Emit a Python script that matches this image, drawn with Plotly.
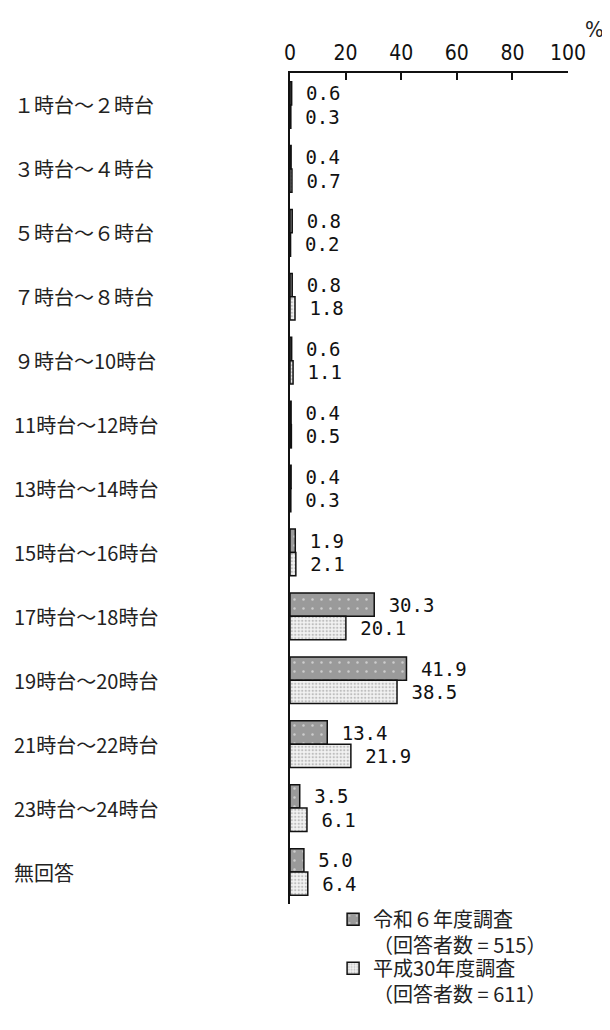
import plotly.graph_objects as go

categories = ["１時台～２時台", "３時台～４時台", "５時台～６時台", "７時台～８時台",
              "９時台～10時台", "11時台～12時台", "13時台～14時台", "15時台～16時台",
              "17時台～18時台", "19時台～20時台", "21時台～22時台", "23時台～24時台", "無回答"]
r6_values = [0.6, 0.4, 0.8, 0.8, 0.6, 0.4, 0.4, 1.9, 30.3, 41.9, 13.4, 3.5, 5.0]
h30_values = [0.3, 0.7, 0.2, 1.8, 1.1, 0.5, 0.3, 2.1, 20.1, 38.5, 21.9, 6.1, 6.4]
series_names = ["令和６年度調査<br>（回答者数 = 515）", "平成30年度調査<br>（回答者数 = 611）"]
x_ticks = [0, 20, 40, 60, 80, 100]

NUM_FONT = "DejaVu Sans Mono"
TICK_FONT = "Liberation Sans Narrow, DejaVu Sans Condensed, DejaVu Sans Mono"
JP_FONT = "Noto Sans CJK JP"

fig = go.Figure()
fig.add_trace(go.Bar(
    y=categories, x=r6_values, orientation="h", name=series_names[0], legend="legend",
    marker=dict(color="#9a9a9a", line=dict(color="#111", width=1.5),
                pattern=dict(shape=".", fgcolor="white", bgcolor="#9a9a9a",
                             size=9, solidity=0.06, fillmode="overlay")),
    texttemplate=" %{x:.1f}", textposition="outside", cliponaxis=False,
    textfont=dict(family=NUM_FONT, size=19, color="#111"),
))
fig.add_trace(go.Bar(
    y=categories, x=h30_values, orientation="h", name=series_names[1], legend="legend2",
    marker=dict(color="#f2f2f2", line=dict(color="#111", width=1.5),
                pattern=dict(shape=".", fgcolor="#8a8a8a", bgcolor="#f2f2f2",
                             size=3.5, solidity=0.35, fillmode="overlay")),
    texttemplate=" %{x:.1f}", textposition="outside", cliponaxis=False,
    textfont=dict(family=NUM_FONT, size=19, color="#111"),
))

annotations = []
for c in categories:
    annotations.append(dict(text=c, x=-1.0, xref="paper", xanchor="left",
                            y=c, yref="y", yanchor="middle", showarrow=False,
                            font=dict(family=JP_FONT, size=20, color="#222")))
annotations.append(dict(text="%", x=1.095, xref="paper", xanchor="center",
                        y=1.0, yref="paper", yanchor="middle", yshift=44,
                        showarrow=False, font=dict(family=TICK_FONT, size=22, color="#222")))

legend_common = dict(xanchor="left", yanchor="top", traceorder="normal", valign="top",
                     font=dict(family=JP_FONT, size=20, color="#222"),
                     bgcolor="rgba(0,0,0,0)")

fig.update_layout(
    width=602, height=1022,
    margin=dict(l=282, r=42, t=65, b=126),
    paper_bgcolor="white", plot_bgcolor="white",
    barmode="group", bargap=0.27, bargroupgap=0,
    showlegend=True,
    legend=dict(x=0.155, y=0.005, **legend_common),
    legend2=dict(x=0.155, y=-0.054, **legend_common),
    annotations=annotations,
)
fig.update_xaxes(side="top", range=[0, 100], tickvals=x_ticks, ticktext=[str(v) for v in x_ticks],
                 showline=True, linecolor="#111", linewidth=1.5, ticks="inside", ticklen=7,
                 tickcolor="#111", tickwidth=1.5, showgrid=False, zeroline=False,
                 ticklabelstandoff=3,
                 tickfont=dict(family=TICK_FONT, size=21, color="#111"), fixedrange=True)
fig.update_yaxes(autorange="reversed", showticklabels=False, showline=True, linecolor="#111",
                 linewidth=2, ticks="", showgrid=False, zeroline=False)

fig.write_html("out.html")
